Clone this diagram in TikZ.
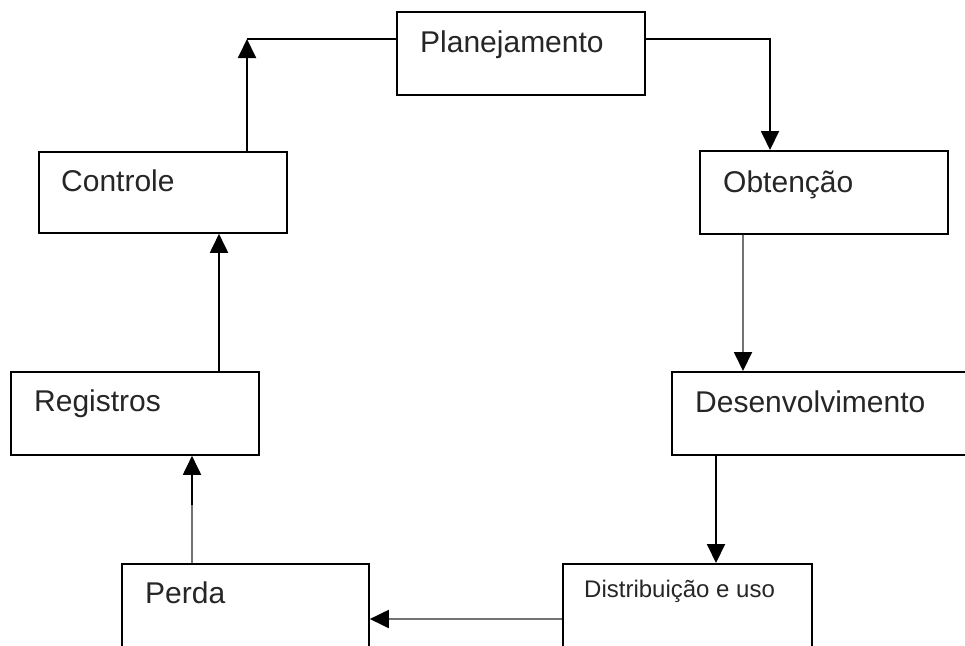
\documentclass[tikz,border=0pt]{standalone}
\usepackage{fontspec}
\setmainfont{Liberation Sans}
\usetikzlibrary{arrows.meta}
\definecolor{linegray}{RGB}{115,115,115}
\begin{document}
\begin{tikzpicture}[x=1pt,y=-1pt,
  box/.style={draw=black, line width=1.8pt, rectangle, inner sep=0pt, anchor=north west},
  lbl/.style={inner sep=0pt, anchor=base west, font=\fontsize{30}{32}\selectfont, text=black!85},
  small/.style={inner sep=0pt, anchor=base west, font=\fontsize{24}{26}\selectfont, text=black!85},
  link/.style={line width=1.9pt, draw=black},
  glink/.style={line width=2.5pt, draw=linegray},
  tip/.style={-{Triangle[length=19pt,width=18pt]}}
]
\useasboundingbox (0,0) rectangle (965,645);
\clip (0,0) rectangle (965,645);

% boxes of the cycle
\node[box, minimum width=248pt, minimum height=83pt] (plan) at (396,11) {};
\node[box, minimum width=248pt, minimum height=83pt] (obt)  at (699,150) {};
\node[box, minimum width=248pt, minimum height=81pt] (ctrl) at (38,151) {};
\node[box, minimum width=248pt, minimum height=83pt] (reg)  at (10,371) {};
\node[box, minimum width=304pt, minimum height=83pt] (des)  at (671,371) {};
\node[box, minimum width=247pt, minimum height=100pt] (perda) at (121,563) {};
\node[box, minimum width=249pt, minimum height=100pt] (dist)  at (562,563) {};

% texts
\node[lbl] (tplan)  at (420,52)  {Planejamento};
\node[lbl] (tobt)   at (723,192) {Obtenção};
\node[lbl] (tctrl)  at (61,191)  {Controle};
\node[lbl] (treg)   at (34,411)  {Registros};
\node[lbl] (tdes)   at (695,412) {Desenvolvimento};
\node[lbl] (tperda) at (145,603) {Perda};
\node[small] (tdist) at (584,597) {Distribuição e uso};

% corner points of the bent connectors
\coordinate (cl) at (247,39);
\coordinate (cr) at (770,39);
\coordinate (dx) at (743,0);
\coordinate (ex) at (716,0);
\coordinate (fy) at (0,619);
\coordinate (gx) at (192,0);
\coordinate (gm) at (192,505);
\coordinate (hx) at (219,0);

% connectors
\draw[link, tip] (cl |- ctrl.north) -- (cl);
\draw[link] (cl) -- (cl -| plan.west);
\draw[link, tip] (cr -| plan.east) -- (cr) -- (cr |- obt.north);
\draw[glink] (dx |- obt.south) -- ([yshift=12pt]dx |- des.north);
\draw[link, tip] ([yshift=16pt]dx |- des.north) -- (dx |- des.north);
\draw[link, tip] (ex |- des.south) -- (ex |- dist.north);
\draw[glink] (fy -| dist.west) -- ([xshift=12pt]fy -| perda.east);
\draw[link, tip] ([xshift=16pt]fy -| perda.east) -- (fy -| perda.east);
\draw[glink] (gx |- perda.north) -- (gm);
\draw[link, tip] (gm) -- (gx |- reg.south);
\draw[link, tip] (hx |- reg.north) -- (hx |- ctrl.south);
\end{tikzpicture}
\end{document}
